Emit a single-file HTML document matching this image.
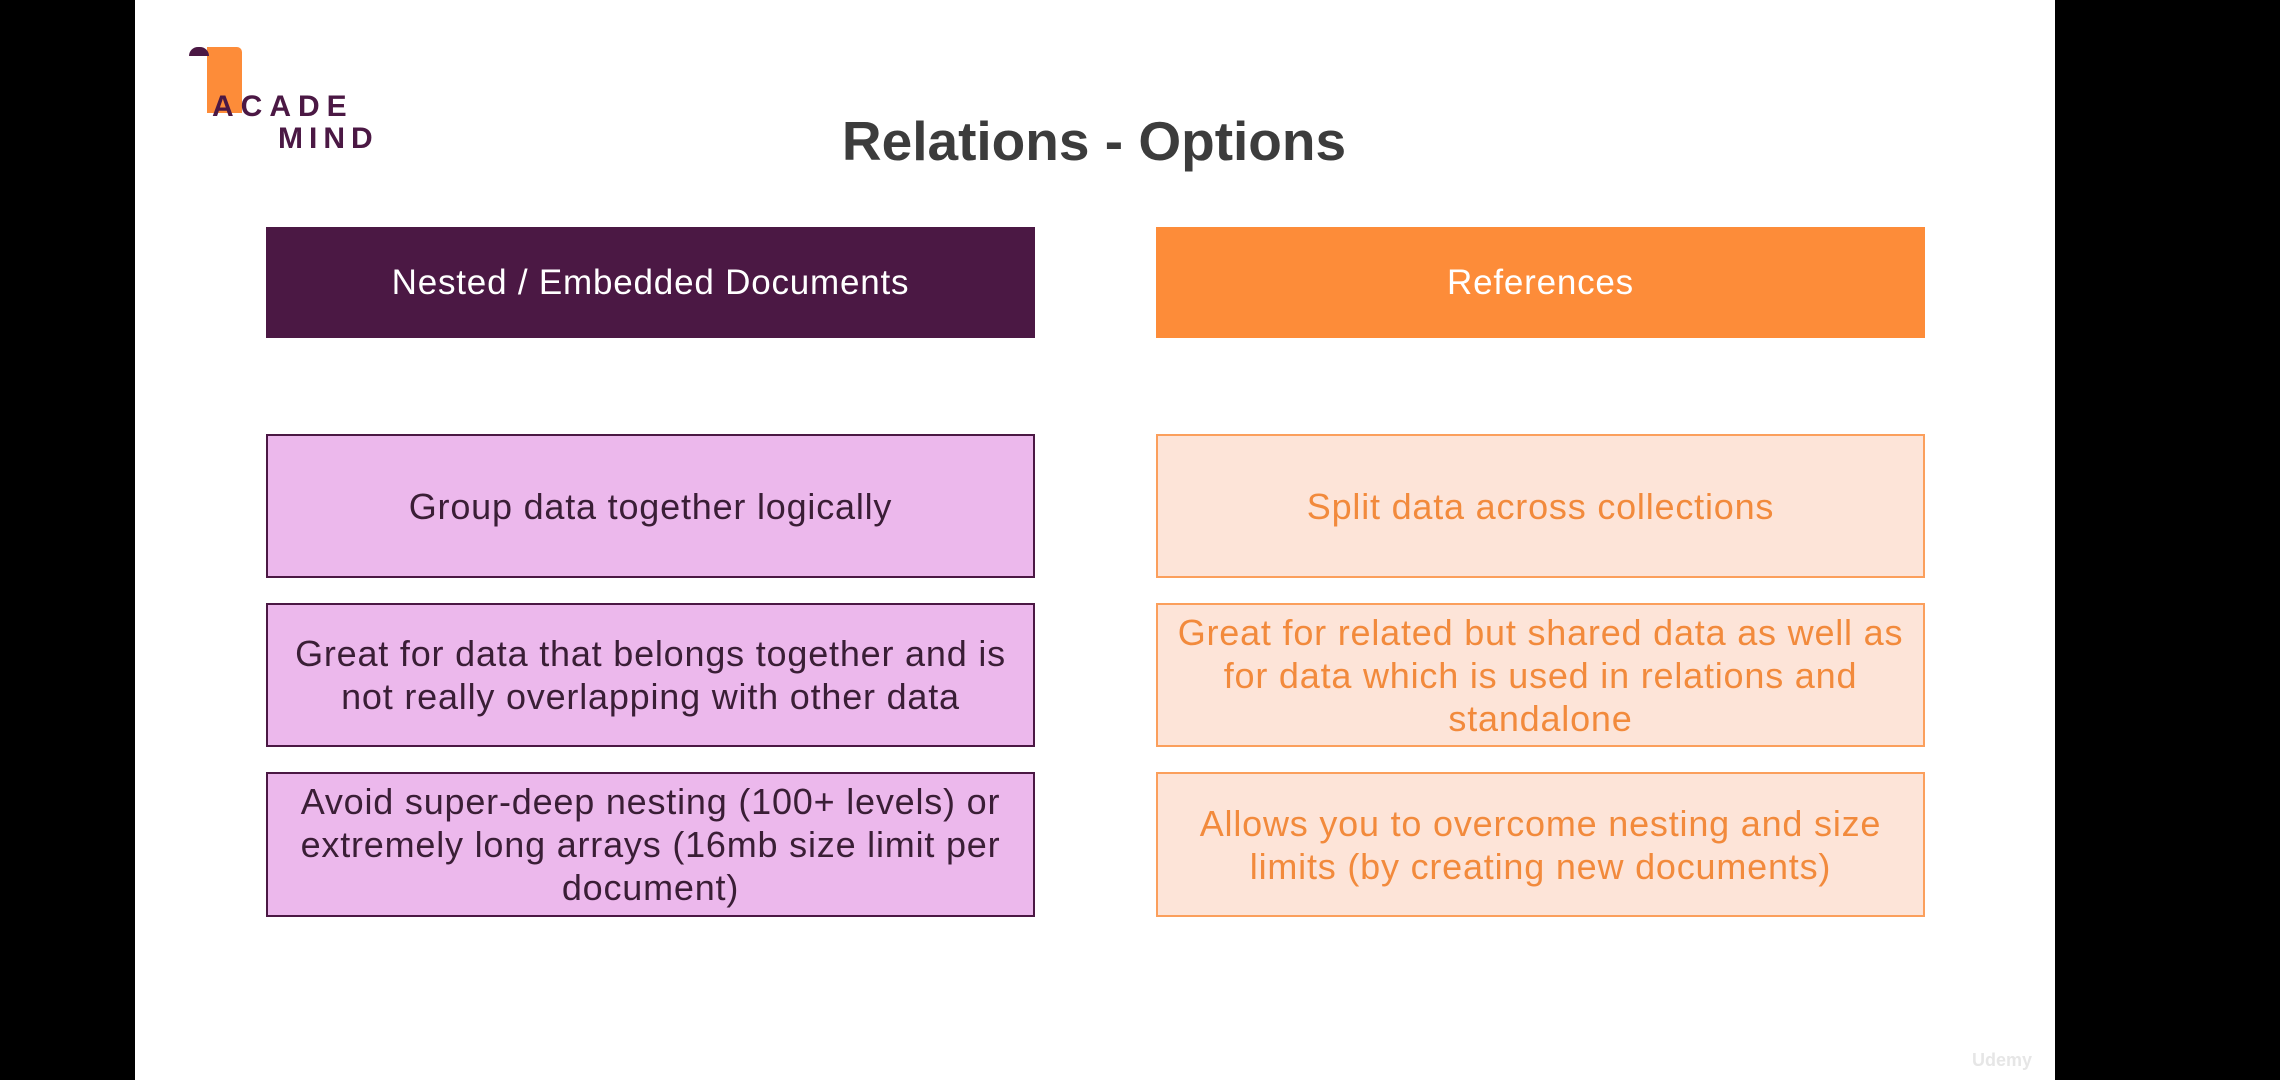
<!DOCTYPE html>
<html><head><meta charset="utf-8"><style>
body{margin:0;width:2280px;height:1080px;background:#000;position:relative;overflow:hidden;font-family:"Liberation Sans",sans-serif}
#page{position:absolute;left:135px;top:0;width:1920px;height:1080px;background:#fff}
.b{position:absolute;box-sizing:border-box;display:flex;align-items:center;justify-content:center;text-align:center;font-size:36px;letter-spacing:0.8px;line-height:43px}
.h1{background:#4b1844;color:#fff;font-size:35px}
.h2{background:#fd8c39;color:#fff;font-size:35px}
.l{background:#ecb8ec;border:2px solid #4b1844;color:#3a1e36}
.r{background:#fde4d8;border:2px solid #fb9f5c;color:#f28a3c}
</style></head><body>
<div id="page"></div>
<div style="position:absolute;left:207px;top:47px;width:35px;height:66px;background:#fd8c39;border-radius:0 5px 0 0"></div>
<div style="position:absolute;left:189px;top:47px;width:20px;height:9px;background:#4b1844;border-radius:10px 10px 0 0"></div>
<div style="position:absolute;left:212px;top:92px;font-size:30px;font-weight:bold;color:#4b1844;letter-spacing:7px;line-height:30px">ACADE</div>
<div style="position:absolute;left:278px;top:124px;font-size:30px;font-weight:bold;color:#4b1844;letter-spacing:6px;line-height:30px">MIND</div>
<div style="position:absolute;left:600px;width:988px;top:108px;text-align:center;font-size:55px;font-weight:bold;color:#3c3c3c;line-height:66px">Relations - Options</div>
<div class="b h1" style="left:266px;top:227px;width:769px;height:111px">Nested / Embedded Documents</div>
<div class="b h2" style="left:1156px;top:227px;width:769px;height:111px">References</div>
<div class="b l" style="left:266px;top:434px;width:769px;height:144px">Group data together logically</div>
<div class="b l" style="left:266px;top:603px;width:769px;height:144px">Great for data that belongs together and is<br>not really overlapping with other data</div>
<div class="b l" style="left:266px;top:772px;width:769px;height:145px">Avoid super-deep nesting (100+ levels) or<br>extremely long arrays (16mb size limit per<br>document)</div>
<div class="b r" style="left:1156px;top:434px;width:769px;height:144px">Split data across collections</div>
<div class="b r" style="left:1156px;top:603px;width:769px;height:144px">Great for related but shared data as well as<br>for data which is used in relations and<br>standalone</div>
<div class="b r" style="left:1156px;top:772px;width:769px;height:145px">Allows you to overcome nesting and size<br>limits (by creating new documents)</div>
<div style="position:absolute;left:1972px;top:1050px;font-size:18px;color:#e6e6e6;font-weight:bold">Udemy</div>
</body></html>
